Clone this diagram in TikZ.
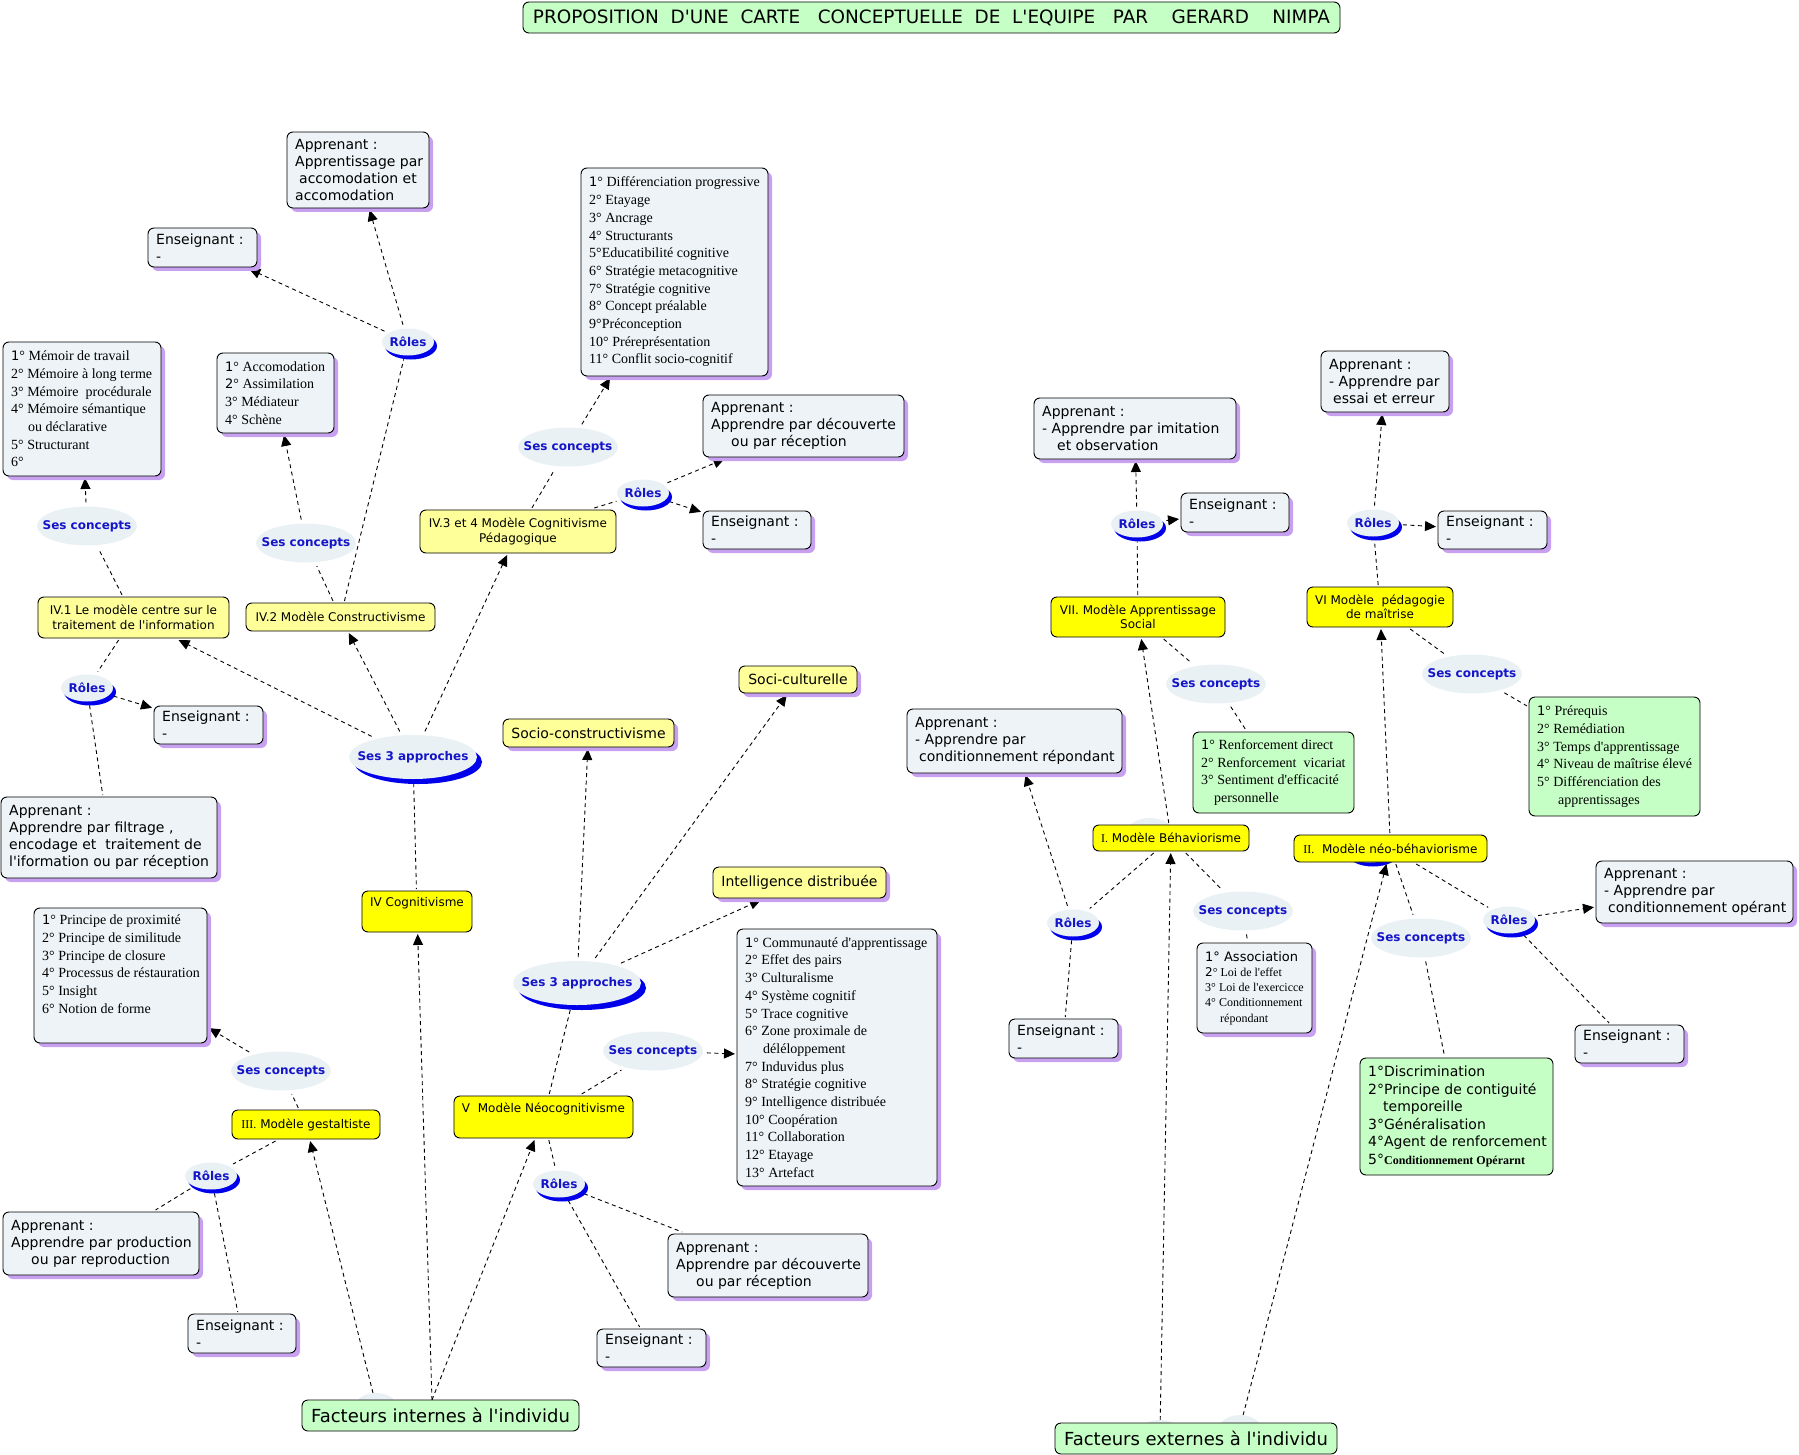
\documentclass[tikz,border=0pt]{standalone}
\usepackage{fontspec}
\usepackage{graphicx}
\setmainfont[Ligatures=TeXOff]{Liberation Serif}
\newfontfamily\dv[Ligatures=TeXOff]{DejaVu Sans}
\usetikzlibrary{shapes.geometric,shadows,arrows.meta}
\pgfdeclarelayer{background}
\pgfsetlayers{background,main}
\definecolor{gfill}{RGB}{237,243,246}
\definecolor{shp}{RGB}{200,160,240}
\definecolor{lyel}{RGB}{255,255,153}
\definecolor{byel}{RGB}{255,255,0}
\definecolor{lgreen}{RGB}{198,255,198}
\definecolor{ellfill}{RGB}{234,241,245}
\definecolor{linkblue}{RGB}{20,20,200}
\definecolor{cresblue}{RGB}{0,0,235}
\newcommand\dg[1]{{\dv\fontsize{13}{15}\selectfont #1}}
\newcommand\lk[1]{\makebox[0pt]{#1}}
% left-aligned box: style, text style, name, x1,y1,x2,y2, text
\newcommand\lbox[8]{%
 \pgfmathsetmacro\mBW{#6-#4}%
 \pgfmathsetmacro\mBH{#7-#5}%
 \pgfmathsetmacro\mCX{(#4+#6)/2}%
 \pgfmathsetmacro\mCY{(#5+#7)/2}%
 \pgfmathsetmacro\mLX{#4+8}%
 \node[#1, minimum width=\mBW pt, minimum height=\mBH pt] (#3) at (\mCX,\mCY) {};%
 \node[#2, anchor=west, align=left, inner sep=0pt] (#3t) at (\mLX,\mCY) {#8};}
% centred box
\newcommand\cbox[8]{%
 \pgfmathsetmacro\mBW{#6-#4}%
 \pgfmathsetmacro\mBH{#7-#5}%
 \pgfmathsetmacro\mCX{(#4+#6)/2}%
 \pgfmathsetmacro\mCY{(#5+#7)/2}%
 \node[#1, #2, align=center, minimum width=\mBW pt, minimum height=\mBH pt] (#3) at (\mCX,\mCY) {#8};}
\begin{document}
\begin{tikzpicture}[x=1pt,y=-1pt,
 basebox/.style={draw=black, line width=0.9pt, rounded corners=6pt, inner sep=0pt, outer sep=2pt},
 gbox/.style={basebox, fill=gfill, drop shadow={shadow xshift=4pt,shadow yshift=-4pt,fill=shp,opacity=1}},
 ybox/.style={basebox, fill=lyel},
 yshbox/.style={basebox, fill=lyel, drop shadow={shadow xshift=4pt,shadow yshift=-4pt,fill=shp,opacity=1}},
 bybox/.style={basebox, fill=byel},
 grbox/.style={basebox, fill=lgreen},
 gt/.style={font=\dv\fontsize{14}{17}\selectfont},
 gt2/.style={font=\dv\fontsize{14}{17.5}\selectfont},
 st/.style={font=\fontsize{14}{17.7}\selectfont},
 assoctext/.style={font=\fontsize{12}{15.3}\selectfont},
 yt/.style={font=\dv\fontsize{12}{14.5}\selectfont},
 tt/.style={font=\dv\fontsize{18}{20}\selectfont},
 link/.style={ellipse, fill=ellfill, inner sep=0pt, outer sep=4pt, text=linkblue, font=\dv\bfseries\fontsize{12}{14}\selectfont},
 sc/.style={link, minimum width=100pt, minimum height=39pt},
 rol/.style={link, minimum width=52pt, minimum height=27pt, drop shadow={shadow xshift=3pt,shadow yshift=-4pt,fill=cresblue,opacity=1}},
 sthree/.style={link, minimum width=128pt, minimum height=44pt, drop shadow={shadow xshift=5pt,shadow yshift=-5pt,fill=cresblue,opacity=1}},
 hid/.style={ellipse, fill=ellfill, inner sep=0pt, outer sep=0pt, minimum width=40pt, minimum height=24pt},
 conn/.style={draw=black, line width=0.9pt, dash pattern=on 4pt off 3.5pt},
 arr/.style={conn, -{Triangle[length=11pt,width=10pt]}}
]
\useasboundingbox (0,0) rectangle (1799,1455);

% hidden linking phrases (behind boxes)
\node[hid] (h1) at (376,1405) {};
\node[hid] (h2) at (1160,1432) {};
\node[hid] (h3) at (1240,1427) {};
\node[hid, minimum width=46pt, minimum height=28pt] (hI) at (1150,832) {};
\node[rol] (hII) at (1370,849) {};
\coordinate (fiT) at (432,1400);

% title
\cbox{grbox}{tt}{title}{523}{2}{1340}{33}{\resizebox{797pt}{!}{PROPOSITION\ \ D'UNE\ \ CARTE\ \ \ CONCEPTUELLE\ \ DE\ \ L'EQUIPE\ \ \ PAR\ \ \ \ GERARD\ \ \ \ NIMPA}}

% ---------- IV Cognitivisme cluster
\lbox{gbox}{gt}{pA}{287}{132}{429}{208}{Apprenant :\\Apprentissage par\\\hspace*{4pt}accomodation et\\accomodation}
\lbox{gbox}{gt}{pE}{148}{228}{257}{267}{Enseignant :\\-}
\node[rol] (pR) at (408,342) {\lk{Rôles}};
\lbox{gbox}{st}{mem}{3}{342}{161}{476}{\dg{1}° Mémoir de travail\\2° Mémoire à long terme\\3° Mémoire\ \ procédurale\\4° Mémoire sémantique\\\hspace*{17pt}ou déclarative\\5° Structurant\\6°}
\lbox{gbox}{st}{acc}{217}{353}{334}{433}{\dg{1}° Accomodation\\\dg{2}° Assimilation\\3° Médiateur\\4° Schène}
\lbox{gbox}{st}{dif}{581}{168}{768}{376}{\dg{1}° Différenciation progressive\\2° Etayage\\3° Ancrage\\4° Structurants\\5°Educatibilité cognitive\\6° Stratégie metacognitive\\7° Stratégie cognitive\\8° Concept préalable\\9°Préconception\\10° Préreprésentation\\11° Conflit socio-cognitif}
\lbox{gbox}{gt}{cA}{703}{395}{904}{457}{Apprenant :\\Apprendre par découverte\\\hspace*{20pt}ou par réception}
\node[sc] (cSC) at (568,447) {\lk{Ses concepts}};
\node[rol] (cR) at (643,493) {\lk{Rôles}};
\lbox{gbox}{gt}{cE}{703}{511}{811}{549}{Enseignant :\\-}
\cbox{ybox}{yt}{iv3}{420}{510}{616}{553}{IV.3 et 4 Modèle Cognitivisme\\Pédagogique}
\node[sc] (iv1SC) at (87,526) {\lk{Ses concepts}};
\node[sc] (iv2SC) at (306,543) {\lk{Ses concepts}};
\cbox{ybox}{yt}{iv1}{38}{597}{229}{638}{IV.1 Le modèle centre sur le\\traitement de l'information}
\cbox{ybox}{yt}{iv2}{246}{603}{435}{631}{IV.2 Modèle Constructivisme}
\node[rol] (iv1R) at (87,688) {\lk{Rôles}};
\lbox{gbox}{gt}{iv1E}{154}{706}{263}{744}{Enseignant :\\-}
\node[sthree] (ivS3) at (413,757) {\lk{Ses 3 approches}};
\lbox{gbox}{gt}{iv1A}{1}{797}{217}{878}{Apprenant :\\Apprendre par filtrage ,\\encodage et\ \ traitement de\\l'iformation ou par réception}
\cbox{bybox}{yt}{ivC}{362}{891}{472}{932}{IV Cognitivisme\\\strut}

% ---------- III gestaltiste
\lbox{gbox}{st}{prin}{34}{908}{207}{1043}{\dg{1}° Principe de proximité\\2° Principe de similitude\\3° Principe de closure\\4° Processus de réstauration\\5° Insight\\6° Notion de forme\\\strut}
\node[sc] (iiiSC) at (281,1071) {\lk{Ses concepts}};
\cbox{bybox}{yt}{iii}{232}{1110}{380}{1139}{{\rmfamily III.} Modèle gestaltiste}
\node[rol] (iiiR) at (211,1176) {\lk{Rôles}};
\lbox{gbox}{gt}{iiiA}{3}{1212}{199}{1275}{Apprenant :\\Apprendre par production\\\hspace*{20pt}ou par reproduction}
\lbox{gbox}{gt}{iiiE}{188}{1314}{296}{1353}{Enseignant :\\-}

% ---------- V Neocognitivisme
\cbox{yshbox}{gt}{socCu}{739}{666}{857}{693}{Soci-culturelle}
\cbox{yshbox}{gt}{socC}{503}{719}{674}{747}{Socio-constructivisme}
\cbox{yshbox}{gt}{intD}{713}{867}{886}{898}{Intelligence distribuée}
\node[sthree] (vS3) at (577,983) {\lk{Ses 3 approches}};
\node[sc] (vSC) at (653,1051) {\lk{Ses concepts}};
\cbox{bybox}{yt}{v}{454}{1096}{633}{1138}{V\ \ Modèle Néocognitivisme\\\strut}
\node[rol] (vR) at (559,1184) {\lk{Rôles}};
\lbox{gbox}{gt}{vA}{668}{1234}{868}{1297}{Apprenant :\\Apprendre par découverte\\\hspace*{20pt}ou par réception}
\lbox{gbox}{gt}{vE}{597}{1329}{706}{1367}{Enseignant :\\-}
\lbox{gbox}{st}{com}{737}{929}{937}{1186}{\dg{1}° Communauté d'apprentissage\\2° Effet des pairs\\3° Culturalisme\\4° Système cognitif\\5° Trace cognitive\\6° Zone proximale de\\\hspace*{18pt}déléloppement\\7° Induvidus plus\\8° Stratégie cognitive\\9° Intelligence distribuée\\10° Coopération\\11° Collaboration\\12° Etayage\\13° Artefact}

% ---------- facteurs
\cbox{grbox}{tt}{fi}{302}{1400}{579}{1431}{Facteurs internes à l'individu}
\cbox{grbox}{tt}{fe}{1055}{1423}{1337}{1454}{Facteurs externes à l'individu}

% ---------- VII apprentissage social
\lbox{gbox}{gt}{viiA}{1034}{398}{1236}{459}{Apprenant :\\- Apprendre par imitation\\\hspace*{15pt}et observation}
\node[rol] (viiR) at (1137,524) {\lk{Rôles}};
\lbox{gbox}{gt}{viiE}{1181}{493}{1289}{532}{Enseignant :\\-}
\cbox{bybox}{yt}{vii}{1051}{597}{1225}{637}{VII. Modèle Apprentissage\\Social}
\node[sc] (viiSC) at (1216,684) {\lk{Ses concepts}};
\lbox{grbox}{st}{renf}{1193}{732}{1354}{813}{\dg{1}° Renforcement direct\\2° Renforcement\ \ vicariat\\3° Sentiment d'efficacité\\\hspace*{13pt}personnelle}

% ---------- I behaviorisme
\lbox{gbox}{gt}{iA}{907}{709}{1122}{773}{Apprenant :\\- Apprendre par\\\hspace*{4pt}conditionnement répondant}
\cbox{bybox}{yt}{i}{1093}{825}{1249}{851}{{\rmfamily I.} Modèle Béhaviorisme}
\node[rol] (iR) at (1073,923) {\lk{Rôles}};
\node[sc] (iSC) at (1243,911) {\lk{Ses concepts}};
\lbox{gbox}{assoctext}{assoc}{1197}{943}{1312}{1033}{{\dv\fontsize{13}{15}\selectfont 1° Association}\\{\dv 2}° Loi de l'effet\\3° Loi de l'exercicce\\4° Conditionnement\\\hspace*{15pt}répondant}
\lbox{gbox}{gt}{iE}{1009}{1019}{1118}{1058}{Enseignant :\\-}

% ---------- VI pedagogie de maitrise
\lbox{gbox}{gt}{viA}{1321}{351}{1449}{412}{Apprenant :\\- Apprendre par\\\hspace*{4pt}essai et erreur}
\node[rol] (viR) at (1373,523) {\lk{Rôles}};
\lbox{gbox}{gt}{viE}{1438}{511}{1547}{549}{Enseignant :\\-}
\cbox{bybox}{yt}{vi}{1307}{587}{1453}{627}{VI Modèle\ \ pédagogie\\de maîtrise}
\node[sc] (viSC) at (1472,674) {\lk{Ses concepts}};
\lbox{grbox}{st}{prer}{1529}{697}{1700}{816}{\dg{1}° Prérequis\\2° Remédiation\\3° Temps d'apprentissage\\4° Niveau de maîtrise élevé\\5° Différenciation des\\\hspace*{21pt}apprentissages}

% ---------- II neo-behaviorisme
\cbox{bybox}{yt}{ii}{1294}{835}{1487}{862}{{\rmfamily II.}\ \ Modèle néo-béhaviorisme}
\node[rol] (iiR) at (1509,920) {\lk{Rôles}};
\node[sc] (iiSC) at (1421,938) {\lk{Ses concepts}};
\lbox{gbox}{gt}{iiA}{1596}{861}{1793}{923}{Apprenant :\\- Apprendre par\\\hspace*{4pt}conditionnement opérant}
\lbox{gbox}{gt}{iiE}{1575}{1025}{1684}{1063}{Enseignant :\\-}
\lbox{grbox}{gt2}{disc}{1360}{1058}{1553}{1175}{1°Discrimination\\2°Principe de contiguité\\\hspace*{15pt}temporeille\\3°Généralisation\\4°Agent de renforcement\\5°{\rmfamily\bfseries\fontsize{12}{14}\selectfont Conditionnement Opérarnt}}

% ---------- connectors
\begin{pgfonlayer}{background}
\draw[arr] (pR) -- (pA);
\draw[arr] (pR) -- (pE);
\draw[conn] (iv2) -- (pR);
\draw[conn] (iv2) -- (iv2SC);
\draw[arr] (iv2SC) -- (acc);
\draw[conn] (iv1) -- (iv1SC);
\draw[arr] (iv1SC) -- (mem);
\draw[conn] (iv1) -- (iv1R);
\draw[arr] (iv1R) -- (iv1E);
\draw[conn] (iv1R) -- (iv1A);
\draw[arr] (ivS3) -- (iv1);
\draw[arr] (ivS3) -- (iv2);
\draw[arr] (ivS3) -- (iv3);
\draw[conn] (ivS3) -- (ivC);
\draw[conn] (iv3) -- (cSC);
\draw[arr] (cSC) -- (dif);
\draw[conn] (iv3) -- (cR);
\draw[arr] (cR) -- (cA);
\draw[arr] (cR) -- (cE);
\draw[arr] (h1) -- (iii);
\draw[arr] (fiT) -- (ivC);
\draw[arr] (fiT) -- (v);
\draw[conn] (iii) -- (iiiSC);
\draw[arr] (iiiSC) -- (prin);
\draw[conn] (iii) -- (iiiR);
\draw[conn] (iiiR) -- (iiiA);
\draw[conn] (iiiR) -- (iiiE);
\draw[conn] (v) -- (vS3);
\draw[arr] (vS3) -- (socC);
\draw[arr] (vS3) -- (socCu);
\draw[arr] (vS3) -- (intD);
\draw[conn] (v) -- (vSC);
\draw[arr] (vSC) -- (com);
\draw[conn] (v) -- (vR);
\draw[conn] (vR) -- (vA);
\draw[conn] (vR) -- (vE);
\draw[arr] (h2) -- (i);
\draw[arr] (h3) -- (ii);
\draw[arr] (i) -- (vii);
\draw[conn] (i) -- (iR);
\draw[arr] (iR) -- (iA);
\draw[conn] (iR) -- (iE);
\draw[conn] (i) -- (iSC);
\draw[conn] (iSC) -- (assoc);
\draw[conn] (vii) -- (viiR);
\draw[arr] (viiR) -- (viiA);
\draw[arr] (viiR) -- (viiE);
\draw[conn] (vii) -- (viiSC);
\draw[conn] (viiSC) -- (renf);
\draw[arr] (ii) -- (vi);
\draw[conn] (vi) -- (viR);
\draw[arr] (viR) -- (viA);
\draw[arr] (viR) -- (viE);
\draw[conn] (vi) -- (viSC);
\draw[conn] (viSC) -- (prer);
\draw[conn] (ii) -- (iiR);
\draw[arr] (iiR) -- (iiA);
\draw[conn] (iiR) -- (iiE);
\draw[conn] (ii) -- (iiSC);
\draw[conn] (iiSC) -- (disc);
\end{pgfonlayer}
\end{tikzpicture}
\end{document}
